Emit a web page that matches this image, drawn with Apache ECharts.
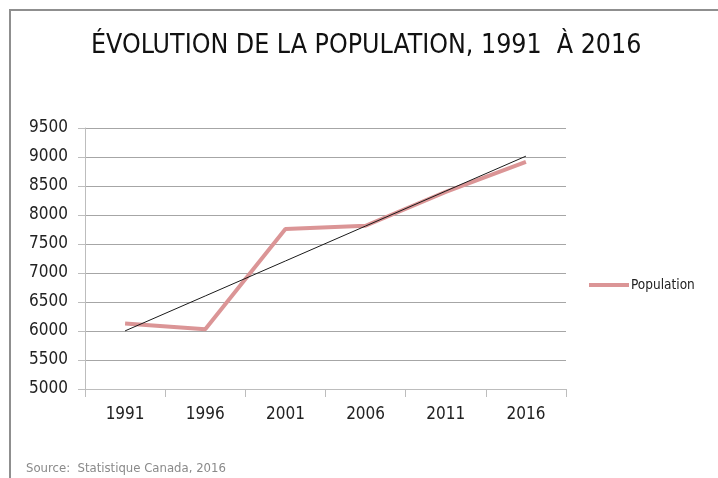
<!DOCTYPE html>
<html>
<head>
<meta charset="utf-8">
<script src="https://cdn.jsdelivr.net/npm/echarts@6/dist/echarts.min.js"></script>
<style>
  html, body { margin: 0; padding: 0; background: #fff; }
  .frame {
    position: absolute; left: 9px; top: 9px; width: 720px; height: 480px;
    border-top: 2px solid #8f8f8f; border-left: 2px solid #8f8f8f;
  }
  #chart { position: absolute; left: 0; top: 0; width: 718px; height: 478px; }
</style>
</head>
<body>
<div class="frame"></div>
<div id="chart"></div>
<script>
const years = ['1991', '1996', '2001', '2006', '2011', '2016'];
const population = [6130, 6030, 7760, 7815, 8400, 8915];
const yTicks = { min: 5000, max: 9500, step: 500 };

// tendance linéaire (moindres carrés), comme la courbe de tendance d'Excel
function linearTrend(vals) {
  const n = vals.length;
  const mx = (n - 1) / 2;
  const my = vals.reduce((a, b) => a + b, 0) / n;
  let num = 0, den = 0;
  vals.forEach((v, i) => { num += (i - mx) * (v - my); den += (i - mx) * (i - mx); });
  const slope = num / den;
  return vals.map((v, i) => my + slope * (i - mx));
}
const trend = linearTrend(population);

const chart = echarts.init(document.getElementById('chart'));
const labelFont = '"DejaVu Sans Condensed", sans-serif';

chart.setOption({
  animation: false,
  title: {
    text: 'ÉVOLUTION DE LA POPULATION, 1991  À 2016',
    left: 86,
    top: 28,
    textStyle: { fontFamily: labelFont, fontSize: 26.5, fontWeight: 'normal', color: '#111' }
  },
  legend: {
    data: ['Population'],
    orient: 'vertical',
    left: 584,
    top: 273,
    itemWidth: 40,
    itemHeight: 4,
    icon: 'rect',
    itemGap: 4,
    textStyle: { fontFamily: labelFont, fontSize: 13.5, color: '#222', padding: [0, 0, 0, -3] }
  },
  grid: { left: 85, right: 152, top: 128, bottom: 89, containLabel: false },
  xAxis: {
    type: 'category',
    data: years,
    boundaryGap: true,
    axisLine: { lineStyle: { color: '#bdbdbd', width: 1 } },
    axisTick: { show: true, length: 8, lineStyle: { color: '#bdbdbd' } },
    axisLabel: { margin: 17, fontFamily: labelFont, fontSize: 17, color: '#222' }
  },
  yAxis: {
    type: 'value',
    min: yTicks.min,
    max: yTicks.max,
    interval: yTicks.step,
    axisLine: { show: true, lineStyle: { color: '#bdbdbd', width: 1 } },
    axisTick: { show: true, length: 7, lineStyle: { color: '#bdbdbd' } },
    axisLabel: {
      margin: 17, fontFamily: labelFont, fontSize: 17, color: '#222',
      formatter: function (v) { return String(v); }
    },
    splitLine: { lineStyle: { color: '#a6a6a6', width: 1 } }
  },
  series: [
    {
      name: 'Population',
      type: 'line',
      data: population,
      symbol: 'none',
      lineStyle: { color: '#db9596', width: 4 },
      itemStyle: { color: '#db9596' },
      z: 2
    },
    {
      name: 'Tendance',
      type: 'line',
      data: trend,
      symbol: 'none',
      lineStyle: { color: '#1a1a1a', width: 1 },
      z: 3,
      silent: true
    }
  ],
  graphic: [
    {
      type: 'text',
      left: 26,
      top: 462,
      style: {
        text: 'Source:  Statistique Canada, 2016',
        font: '13px "DejaVu Sans Condensed", sans-serif',
        fill: '#8a8a8a'
      }
    }
  ]
});

window.addEventListener('resize', function () {
  chart.resize();
});
</script>
</body>
</html>
